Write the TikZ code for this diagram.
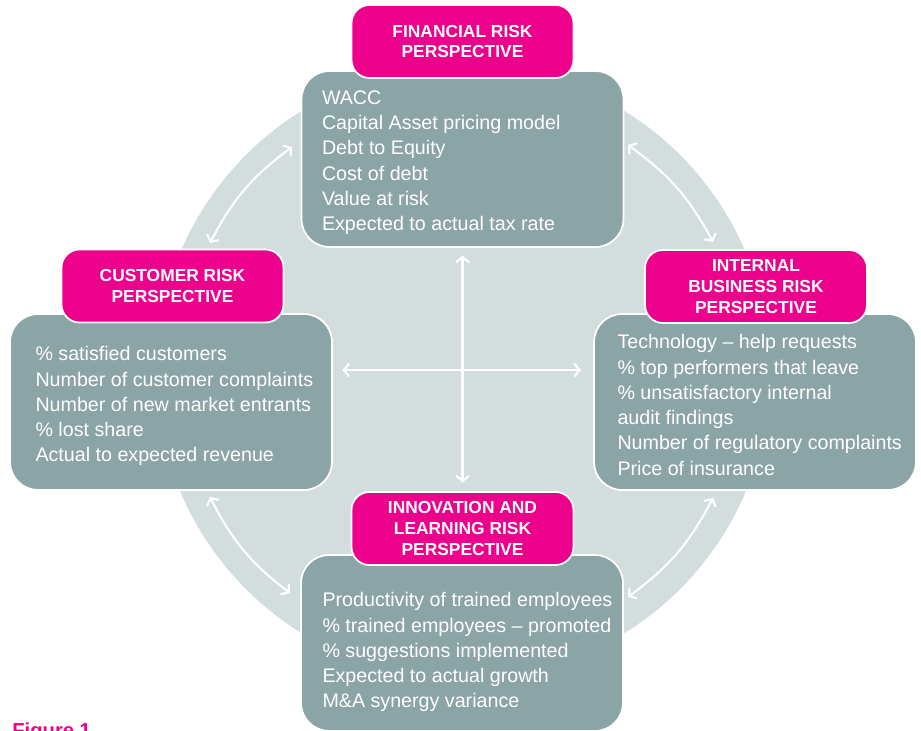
\documentclass[tikz,border=0pt]{standalone}
\usepackage{fontspec}
\setmainfont{Liberation Sans}
\usetikzlibrary{arrows.meta,calc}
\definecolor{ringgray}{RGB}{211,221,222}
\definecolor{panelgray}{RGB}{139,164,165}
\definecolor{headpink}{RGB}{236,0,140}

\tikzset{
  panel/.style={draw=white, line width=1pt, fill=panelgray, rounded corners=0.56cm,
    minimum width=6.44cm, minimum height=3.52cm, inner sep=0pt},
  headbox/.style={draw=white, line width=1pt, fill=headpink, rounded corners=0.36cm,
    minimum width=4.44cm, minimum height=1.46cm, inner sep=0pt, text=white,
    align=center, font=\fontsize{9.9}{11.8}\selectfont\bfseries},
  measures/.style={anchor=north west, inner sep=0pt, text=white, align=left,
    font=\fontsize{11.2}{14.4}\selectfont},
  link/.style={white, line width=1.2pt,
    {Straight Barb[length=3pt,width=7.5pt]}-{Straight Barb[length=3pt,width=7.5pt]}},
}

\begin{document}
\begin{tikzpicture}[x=0.02cm, y=-0.02cm]

% page area (units are pixels, y runs downwards)
\clip (0,0) rectangle (921,731);
\fill[white] (0,0) rectangle (921,731);

% ===== background ring =====
\coordinate (ctr) at (463,372);
\fill[ringgray] (ctr) circle[radius=6.14cm];

% ===== curved links between neighbouring perspectives =====
% end points sit on a circle of r ~ 282 around ctr
\coordinate (tl1) at (292,147);
\coordinate (tl2) at (210,243);
\coordinate (tr1) at (713,242);
\coordinate (tr2) at (628,145);
\coordinate (bl1) at (210,497);
\coordinate (bl2) at (290,593);
\coordinate (br1) at (628,597);
\coordinate (br2) at (713,498);

\draw[link] (tl1) to[bend right=13] (tl2);
\draw[link] (tr1) to[bend right=13] (tr2);
\draw[link] (bl1) to[bend right=13] (bl2);
\draw[link] (br1) to[bend right=13] (br2);

% ===== panels =====
\node[panel] (fin)    at (462.5,159) {};
\node[panel] (cust)   at (171,402)   {};
\node[panel] (intbus) at (755,402)   {};
\node[panel] (innov)  at (462,643)   {};

\node[headbox] (finhead)    at (462.5,41.5) {FINANCIAL RISK\\PERSPECTIVE};
\node[headbox] (custhead)   at (172.5,286)  {CUSTOMER RISK\\PERSPECTIVE};
\node[headbox] (intbushead) at (756,286.5)  {INTERNAL\\BUSINESS RISK\\PERSPECTIVE};
\node[headbox] (innovhead)  at (462.5,528.5) {INNOVATION AND\\LEARNING RISK\\PERSPECTIVE};

% ===== measures in each panel =====
\node[measures] (finlist) at ($(fin.north west)+(21,20)$)
  {WACC\\Capital Asset pricing model\\Debt to Equity\\Cost of debt\\
   Value at risk\\Expected to actual tax rate};
\node[measures] (custlist) at ($(cust.north west)+(26,33)$)
  {\% satisfied customers\\Number of customer complaints\\
   Number of new market entrants\\\% lost share\\Actual to expected revenue};
\node[measures] (intbuslist) at ($(intbus.north west)+(24,21)$)
  {Technology -- help requests\\\% top performers that leave\\
   \% unsatisfactory internal\\audit findings\\
   Number of regulatory complaints\\Price of insurance};
\node[measures] (innovlist) at ($(innov.north west)+(22,38)$)
  {Productivity of trained employees\\\% trained employees -- promoted\\
   \% suggestions implemented\\Expected to actual growth\\M\&A synergy variance};

% ===== central cross =====
\coordinate (mid) at (462.5,370);
\draw[link, shorten <=4.5pt, shorten >=5pt] (fin.south) -- (innovhead.north);
\draw[link, shorten <=5.5pt, shorten >=7pt] (cust.east |- mid) -- (intbus.west |- mid);

% caption, cut by the page edge
\node[anchor=north west, inner sep=0pt, text=headpink,
  font=\fontsize{11.5}{13}\selectfont\bfseries] (figlabel) at (12,722) {Figure 1};

\end{tikzpicture}
\end{document}
